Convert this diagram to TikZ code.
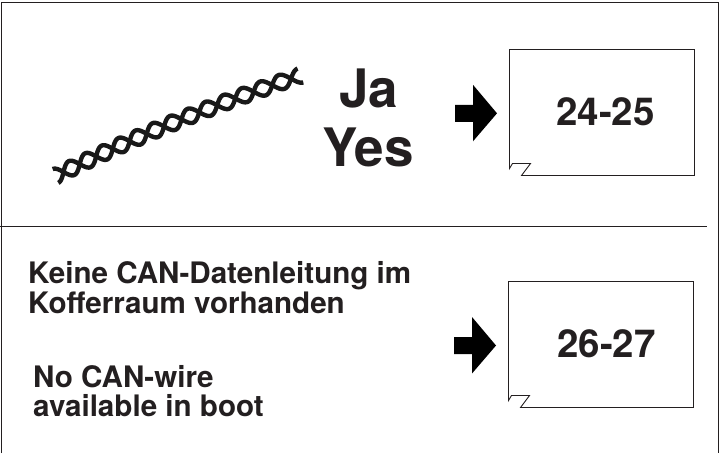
\documentclass[tikz,border=0pt]{standalone}
\usepackage{fontspec}
\setmainfont{TeX Gyre Heros}
\definecolor{inkdark}{HTML}{231F20}
\newcommand{\pagebox}[6]{%
  \draw[boxline] (#1,#2) -- (#3,#2) -- (#3,#4) -- (#1+12,#4) -- (#1+21,#4-12) -- (#1+3,#4-12) -- (#1,#4-7) -- cycle;
  \node (#5) at ({(#1+#3)/2+#6},{(#2+#4)/2-1}) [pagelabel] {#5};
}
\newcommand{\bigarrow}[2]{%
  \fill[black] (#1,#2-8.5) -- (#1+18,#2-8.5) -- (#1+18,#2-28.5) -- (#1+42,#2) -- (#1+18,#2+28) -- (#1+18,#2+8.5) -- (#1,#2+8.5) -- cycle;
}
\tikzset{
  declare function={
    wirex(\t)=55.5+2*\t*(1-\t)*112+\t*\t*245;
    wirey(\t)=176*(1-\t)*(1-\t)+2*\t*(1-\t)*120+\t*\t*75.5;
  },
  boxline/.style={draw=inkdark, line width=0.9pt},
  pagelabel/.style={font=\fontsize{38.5}{38.5}\selectfont\bfseries, text=inkdark},
  bigtext/.style={font=\fontsize{53}{53}\selectfont\bfseries, text=inkdark},
  bodytext/.style={font=\fontsize{29.6}{29.5}\selectfont\bfseries, text=inkdark, align=left, anchor=north west, inner sep=0pt},
  wire/.style={line width=4.4pt, draw=black!90, line join=round},
}
\begin{document}
\begin{tikzpicture}[x=1pt,y=-1pt]
  \useasboundingbox (0,0) rectangle (726,453);
  % frame and divider
  \draw[inkdark, line width=1.2pt] (1.5,453) -- (1.5,2.5) -- (718.5,2.5) -- (718.5,453);
  \draw[inkdark, line width=1pt] (0,226) -- (707,226);
  % twisted wire
  \draw[wire] plot[smooth, samples=300, domain=-0.5:13.5, variable=\s]
    ({wirex((\s+0.5)/14)+7.5*sin(180*\s)*0.38},{wirey((\s+0.5)/14)+7.5*sin(180*\s)*0.92});
  \draw[wire] plot[smooth, samples=300, domain=-0.5:13.5, variable=\s]
    ({wirex((\s+0.5)/14)-7.5*sin(180*\s)*0.38},{wirey((\s+0.5)/14)-7.5*sin(180*\s)*0.92});
  % upper row
  \node (ja) at (368.5,88) [bigtext] {Ja};
  \node (yes) at (368,147) [bigtext] {Yes};
  \bigarrow{455}{113.3}
  \pagebox{509.5}{49.5}{694.5}{175.5}{24-25}{3.5}
  % lower row
  \node (keine) at (28,261.5) [bodytext] {Keine CAN-Datenleitung im\\Kofferraum vorhanden};
  \node (nocan) at (33,365) [bodytext] {No CAN-wire\\available in boot};
  \bigarrow{454}{345.5}
  \pagebox{508.5}{281.5}{693.5}{407.5}{26-27}{5.5}
\end{tikzpicture}
\end{document}
